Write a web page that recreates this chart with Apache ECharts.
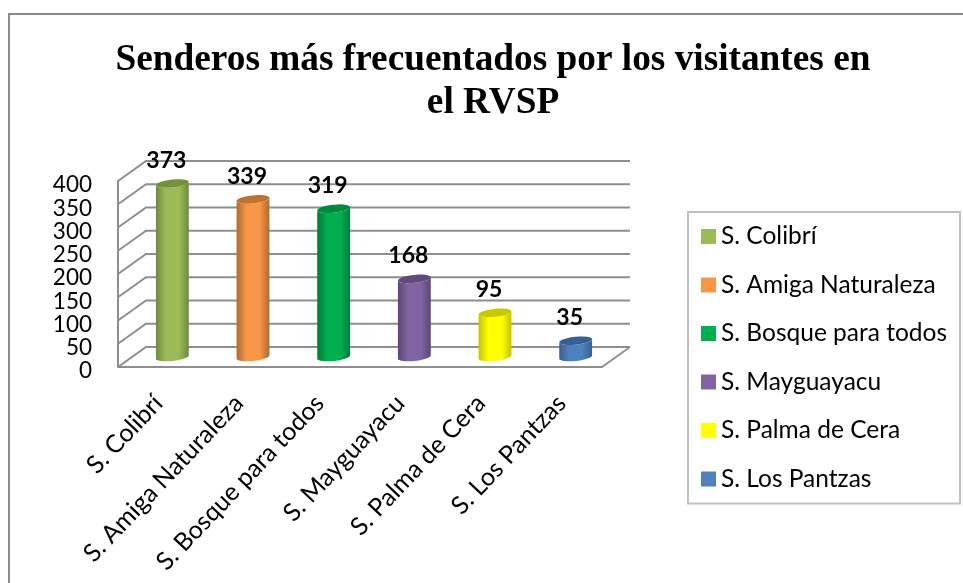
<!DOCTYPE html>
<html>
<head>
<meta charset="utf-8">
<title>Senderos</title>
<script src="https://cdn.jsdelivr.net/npm/echarts@6/dist/echarts.min.js"></script>
<style>
html, body { margin: 0; padding: 0; background: #fff; }
#chart { width: 963px; height: 583px; }
</style>
</head>
<body>
<div id="chart"></div>
<script>
// datos del grafico
var categories = ['S. Colibrí', 'S. Amiga Naturaleza', 'S. Bosque para todos', 'S. Mayguayacu', 'S. Palma de Cera', 'S. Los Pantzas'];
var values = [373, 339, 319, 168, 95, 35];
var yTicks = [0, 50, 100, 150, 200, 250, 300, 350, 400];
var baseColors = ['#9BBB59', '#F79646', '#00B050', '#8064A2', '#FFFF00', '#4F81BD'];
var edgeColors = ['#6F8A3C', '#B06A2E', '#007A38', '#5B4775', '#C4C400', '#366092'];
var topColors = ['#76923C', '#C0712E', '#008A40', '#604A7B', '#C8C800', '#376092'];

var titleText = 'Senderos más frecuentados por los visitantes en\nel RVSP';

// profundidad del efecto 3D
var depthX = 28;
var depthY = 20;
var lineColor = '#8E8E8E';
var labelFont = 'Lato';

function ellipsePts (cx, cy, rx, ry, from, to) {
  var pts = [];
  var tilt = -6 * Math.PI / 180;
  for (var i = 0; i <= 24; i++) {
    var a = from + (to - from) * i / 24;
    var ex = rx * Math.cos(a);
    var ey = ry * Math.sin(a);
    pts.push([cx + ex * Math.cos(tilt) - ey * Math.sin(tilt), cy + ex * Math.sin(tilt) + ey * Math.cos(tilt)]);
  }
  return pts;
}

// paredes: lineas de la grilla en perspectiva
function renderWall (params, api) {
  var sys = params.coordSys;
  var y = api.coord([0, api.value(1)])[1];
  var left = sys.x;
  var right = sys.x + sys.width;
  var children = [{
    type: 'polyline',
    shape: { points: [[left, y], [left + depthX, y - depthY], [right + depthX, y - depthY]] },
    style: { stroke: lineColor, lineWidth: 2, fill: null }
  }];
  if (api.value(1) === 0) {
    children.push({
      type: 'line',
      shape: { x1: right, y1: y, x2: right + depthX, y2: y - depthY },
      style: { stroke: lineColor, lineWidth: 2 }
    });
  }
  return { type: 'group', children: children };
}

function makeCylinder (idx) {
  return function (params, api) {
    var top = api.coord([idx, api.value(1)]);
    var base = api.coord([idx, 0]);
    var cx = top[0] + depthX / 2;
    var topY = top[1] - depthY / 2;
    var baseY = base[1] - depthY / 2;
    var rx = 16.5;
    var ry = 4;
    var upper = ellipsePts(cx, topY, rx, ry, Math.PI, 0);
    var lower = ellipsePts(cx, baseY, rx, ry, 0, Math.PI);
    return {
      type: 'group',
      children: [{
        type: 'polygon',
        shape: { points: upper.concat(lower) },
        style: {
          fill: new echarts.graphic.LinearGradient(0, 0, 1, 0, [
            { offset: 0, color: edgeColors[idx] },
            { offset: 0.3, color: baseColors[idx] },
            { offset: 0.7, color: baseColors[idx] },
            { offset: 1, color: edgeColors[idx] }
          ])
        }
      }, {
        type: 'polygon',
        shape: { points: ellipsePts(cx, topY, rx, ry, 0, Math.PI * 2) },
        style: { fill: topColors[idx] }
      }, {
        type: 'text',
        style: {
          text: String(api.value(1)),
          x: cx - 6,
          y: topY - 23,
          align: 'center',
          verticalAlign: 'middle',
          fill: '#000',
          font: 'bold 23px ' + labelFont
        }
      }]
    };
  };
}

var series = [{
  type: 'custom',
  name: 'pared',
  silent: true,
  z: 1,
  renderItem: renderWall,
  encode: { x: 0, y: 1 },
  data: yTicks.map(function (t) { return [0, t]; })
}];
categories.forEach(function (name, i) {
  series.push({
    type: 'custom',
    name: name,
    z: 2,
    itemStyle: { color: baseColors[i] },
    renderItem: makeCylinder(i),
    encode: { x: 0, y: 1 },
    data: [[i, values[i]]]
  });
});

var myChart = echarts.init(document.getElementById('chart'), null, { renderer: 'canvas' });
var option = {
  animation: false,
  backgroundColor: '#fff',
  title: {
    text: titleText,
    left: 488,
    top: 34,
    textAlign: 'center',
    textStyle: {
      fontFamily: 'Liberation Serif',
      fontWeight: 'bold',
      fontSize: 37.3,
      lineHeight: 43,
      color: '#000'
    }
  },
  legend: {
    data: categories,
    orient: 'vertical',
    left: 688,
    top: 212,
    padding: [12, 13, 12, 13],
    itemWidth: 15,
    itemHeight: 15,
    itemGap: 23.5,
    icon: 'rect',
    borderColor: '#BFBFBF',
    borderWidth: 2,
    textStyle: { fontFamily: labelFont, fontSize: 24.5, color: '#000' }
  },
  grid: { left: 118, right: 361, top: 181, bottom: 216 },
  xAxis: {
    type: 'category',
    data: categories,
    axisLine: { show: true, lineStyle: { color: lineColor, width: 2 } },
    axisTick: { show: false },
    axisLabel: {
      interval: 0,
      rotate: 46.5,
      margin: 32,
      fontFamily: labelFont,
      fontSize: 25,
      color: '#000'
    }
  },
  yAxis: {
    type: 'value',
    min: 0,
    max: 400,
    interval: 50,
    axisLine: { show: true, lineStyle: { color: lineColor, width: 2 } },
    axisTick: { show: false },
    splitLine: { show: false },
    axisLabel: {
      margin: 26,
      verticalAlign: 'top',
      lineHeight: 8,
      showMinLabel: true,
      showMaxLabel: true,
      fontFamily: labelFont,
      fontSize: 22.5,
      color: '#000'
    }
  },
  graphic: [{
    type: 'rect',
    silent: true,
    z: 0,
    shape: { x: 9, y: 14, width: 1000, height: 600 },
    style: { fill: null, stroke: '#8A8A8A', lineWidth: 2 }
  }],
  series: series
};
myChart.setOption(option);
window.addEventListener('resize', function () {
  myChart.resize();
});
</script>
</body>
</html>
